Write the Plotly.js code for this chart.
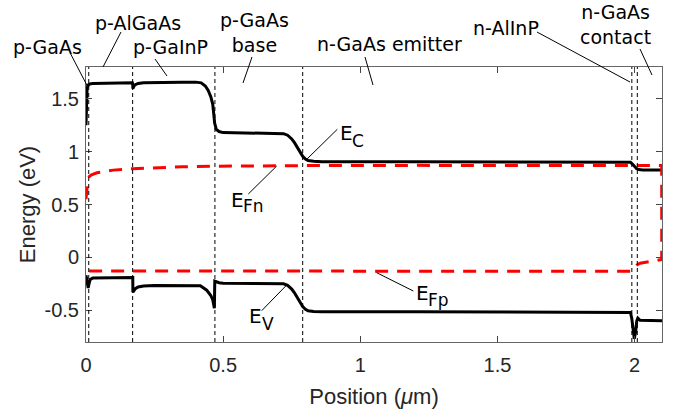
<!DOCTYPE html>
<html><head><meta charset="utf-8">
<script src="https://cdn.plot.ly/plotly-3.0.1.min.js"></script>
<style>html,body{margin:0;padding:0;background:#fff}#chart{width:673px;height:409px}</style>
</head><body><div id="chart"></div>
<script>
// Conduction band edge E_C
const ecX = [0, 0.001, 0.002, 0.004, 0.008, 0.014, 0.025, 0.1, 0.165, 0.169, 0.1705, 0.171, 0.173, 0.178, 0.19, 0.21, 0.26, 0.35, 0.40, 0.42, 0.435, 0.445, 0.455, 0.462, 0.466, 0.469, 0.475, 0.485, 0.50, 0.55, 0.70, 0.72, 0.735, 0.75, 0.76, 0.77, 0.78, 0.79, 0.80, 0.81, 0.83, 0.86, 1.2, 1.6, 1.975, 1.985, 1.993, 2.0, 2.007, 2.015, 2.03, 2.1];
const ecE = [1.25, 1.40, 1.52, 1.60, 1.63, 1.64, 1.645, 1.645, 1.645, 1.65, 1.63, 1.595, 1.61, 1.63, 1.645, 1.652, 1.656, 1.657, 1.657, 1.65, 1.62, 1.58, 1.52, 1.45, 1.35, 1.27, 1.21, 1.19, 1.18, 1.177, 1.175, 1.17, 1.155, 1.12, 1.085, 1.04, 0.99, 0.955, 0.93, 0.915, 0.908, 0.905, 0.905, 0.905, 0.905, 0.90, 0.88, 0.855, 0.84, 0.83, 0.827, 0.825];
// Valence band edge E_V
const evX = [0, 0.002, 0.005, 0.008, 0.011, 0.015, 0.025, 0.1, 0.168, 0.1705, 0.171, 0.175, 0.18, 0.19, 0.21, 0.25, 0.40, 0.417, 0.44, 0.455, 0.462, 0.468, 0.4695, 0.475, 0.485, 0.50, 0.70, 0.72, 0.735, 0.75, 0.76, 0.77, 0.78, 0.79, 0.80, 0.81, 0.83, 0.86, 1.2, 1.6, 1.985, 1.99, 1.994, 1.999, 2.004, 2.008, 2.012, 2.02, 2.1];
const evE = [-0.17, -0.20, -0.27, -0.29, -0.25, -0.21, -0.195, -0.19, -0.187, -0.19, -0.33, -0.31, -0.295, -0.28, -0.27, -0.265, -0.265, -0.268, -0.31, -0.36, -0.40, -0.48, -0.225, -0.23, -0.24, -0.245, -0.245, -0.25, -0.265, -0.30, -0.335, -0.38, -0.43, -0.465, -0.49, -0.505, -0.512, -0.515, -0.515, -0.515, -0.52, -0.58, -0.70, -0.77, -0.70, -0.60, -0.575, -0.595, -0.598];
// Electron quasi-Fermi level E_Fn
const efnX = [0, 0.002, 0.004, 0.007, 0.012, 0.02, 0.04, 0.07, 0.1, 0.17, 0.25, 0.35, 0.47, 0.6, 0.8, 1.2, 1.99, 2.05, 2.099];
const efnE = [0.55, 0.62, 0.69, 0.74, 0.765, 0.78, 0.80, 0.815, 0.825, 0.838, 0.848, 0.856, 0.862, 0.866, 0.868, 0.87, 0.87, 0.869, 0.868];
// Hole quasi-Fermi level E_Fp
const efpX = [0, 0.5, 1.0, 1.5, 1.985, 1.993, 1.998, 2.003, 2.01, 2.02, 2.06, 2.099];
const efpE = [-0.128, -0.13, -0.13, -0.132, -0.132, -0.125, -0.11, -0.09, -0.07, -0.055, -0.04, -0.02];
// Layer boundaries (um)
const layerEdges = [0.01, 0.17, 0.47, 0.79, 1.99, 2.01];
// Tick labels
const xTickVals = [0, 0.5, 1, 1.5, 2];
const xTickText = ['0', '0.5', '1', '1.5', '2'];
const yTickVals = [-0.5, 0, 0.5, 1, 1.5];
const yTickText = ['-0.5', '0', '0.5', '1', '1.5'];
// Labels
const regionLabels = ['p-GaAs', 'p-AlGaAs', 'p-GaInP', 'p-GaAs<br>base', 'n-GaAs emitter', 'n-AlInP', 'n-GaAs<br>contact'];
const bandMain = ['E', 'E', 'E', 'E'];
const bandSub = ['C', 'Fn', 'V', 'Fp'];

// ---- layout geometry (pixels) ----
const W = 673, H = 409;
const M = {l: 86, r: 11, t: 67, b: 67};
const PW = W - M.l - M.r, PH = H - M.t - M.b;
const px = v => (v - M.l) / PW;      // pixel -> paper x
const py = v => (H - M.b - v) / PH;  // pixel -> paper y

// label placement (pixels) and leader lines (pixel tail -> head)
const regionPos = [[47.5, 46.8], [138.3, 22.8], [170, 46.8], [254.2, 32.7], [389, 43.5], [505.8, 27.8], [615, 25]];
const bandMainPos = [[339, 133.1], [230, 199.8], [247.5, 316.4], [415, 293.1]];   // left, middle
const bandSubPos = [[350.5, 140.8], [242, 206.3], [261, 323.6], [427, 300.3]];
const leaders = [
  [70.7, 54, 87.3, 86], [121, 32, 103, 67], [155, 59, 167, 76], [252, 57, 243, 83],
  [365, 57, 373, 85], [537, 32, 630, 82], [640, 49, 652, 75],
  [337.3, 129.3, 306, 160], [248.3, 194, 276.7, 166], [261.7, 310.7, 286.7, 285], [413.3, 291, 376.7, 272.7]
];

const traces = [
  {x: ecX, y: ecE, mode: 'lines', line: {color: '#000', width: 3}, hoverinfo: 'skip'},
  {x: evX, y: evE, mode: 'lines', line: {color: '#000', width: 3}, hoverinfo: 'skip'},
  {x: efnX.concat(efpX.slice().reverse()), y: efnE.concat(efpE.slice().reverse()), mode: 'lines',
   line: {color: '#ff0000', width: 3, dash: '13px,9px'}, hoverinfo: 'skip'}
];

const shapes = layerEdges.map(e => ({type: 'line', xref: 'x', yref: 'paper', x0: e, x1: e, y0: 0, y1: 1,
  line: {color: '#000', width: 1, dash: '4px,3px'}, layer: 'above'}));
leaders.forEach(l => shapes.push({type: 'line', xref: 'paper', yref: 'paper',
  x0: px(l[0]), y0: py(l[1]), x1: px(l[2]), y1: py(l[3]), line: {color: '#000', width: 1}}));

const annFont = {family: 'DejaVu Sans', size: 19, color: '#000'};
const bandFont = {family: 'DejaVu Sans', size: 20, color: '#000'};
const subFont = {family: 'DejaVu Sans', size: 17, color: '#000'};
const annotations = [];
regionLabels.forEach((t, i) => annotations.push({text: t, xref: 'paper', yref: 'paper',
  x: px(regionPos[i][0]), y: py(regionPos[i][1]), xanchor: 'center', yanchor: 'middle', showarrow: false, font: annFont}));
bandMain.forEach((t, i) => annotations.push({text: t, xref: 'paper', yref: 'paper',
  x: px(bandMainPos[i][0]), y: py(bandMainPos[i][1]), xanchor: 'left', yanchor: 'middle', showarrow: false, font: bandFont, borderpad: 0}));
bandSub.forEach((t, i) => annotations.push({text: t, xref: 'paper', yref: 'paper',
  x: px(bandSubPos[i][0]), y: py(bandSubPos[i][1]), xanchor: 'left', yanchor: 'middle', showarrow: false, font: subFont, borderpad: 0}));

const axisCommon = {showgrid: false, zeroline: false, showline: true, linecolor: '#666', linewidth: 1,
  mirror: 'ticks', ticks: 'inside', ticklen: 6, tickwidth: 1, tickcolor: '#444',
  tickfont: {family: 'Liberation Sans', size: 20, color: '#262626'}};

const layout = {
  width: W, height: H, margin: M, paper_bgcolor: '#fff', plot_bgcolor: '#fff', showlegend: false,
  font: {family: 'Liberation Sans', color: '#262626'},
  xaxis: Object.assign({}, axisCommon, {range: [0, 2.1], tickvals: xTickVals, ticktext: xTickText,
    ticklabelstandoff: 5,
    title: {text: 'Position (<i>μ</i>m)', font: {family: 'Liberation Sans', size: 22, color: '#262626'}, standoff: 14}}),
  yaxis: Object.assign({}, axisCommon, {range: [-0.8, 1.8], tickvals: yTickVals, ticktext: yTickText,
    ticklabelstandoff: 2,
    title: {text: 'Energy (eV)', font: {family: 'Liberation Sans', size: 22, color: '#262626'}, standoff: 2}}),
  shapes: shapes, annotations: annotations
};

Plotly.newPlot('chart', traces, layout, {staticPlot: true, displayModeBar: false});
</script></body></html>
